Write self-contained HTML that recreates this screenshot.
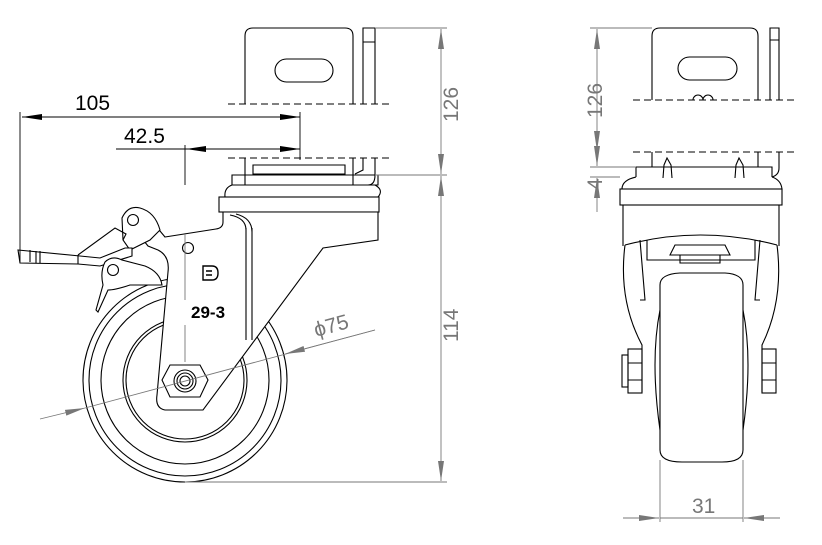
<!DOCTYPE html>
<html><head><meta charset="utf-8"><style>
html,body{margin:0;padding:0;background:#fff;}
svg{display:block;}
text{font-family:"Liberation Sans",sans-serif;}
</style></head><body>
<svg width="822" height="545" viewBox="0 0 822 545" xmlns="http://www.w3.org/2000/svg">
<defs>
<marker id="a" viewBox="0 0 20 6" refX="20" refY="3" markerWidth="20" markerHeight="6" orient="auto" markerUnits="userSpaceOnUse"><path d="M0,0 L20,3 L0,6 z" fill="#000"/></marker>
<marker id="g" viewBox="0 0 20 6" refX="20" refY="3" markerWidth="20" markerHeight="6" orient="auto" markerUnits="userSpaceOnUse"><path d="M0,0 L20,3 L0,6 z" fill="#777"/></marker>
</defs>
<g fill="none" stroke="#000" stroke-width="1.1">
<!-- LEFT VIEW -->
<path d="M245,104 V36 Q245,28 253,28 H345 Q353,28 353,36 V104"/>
<rect x="275" y="59" width="58" height="23" rx="11.5"/>
<path d="M363,104 V28 H375 V104 M363,42 H375"/>
<path d="M228,104 H393 M228,158 H393" stroke-dasharray="7,4"/>
<path d="M245,158 V185 M353,158 V185 M253,174 V165 H345 V174 Z M232,185 V175 H378 V185 Z M363,158 V170 L355,174 M375,158 V175 Q375,185 368,185"/>
<path d="M232,185 Q224,188 225,197 M375,185 Q384,190 378,197"/>
<rect x="219" y="197" width="160" height="15"/>
<!-- wheel -->
<circle cx="185" cy="380" r="102"/>
<circle cx="185" cy="380" r="96"/>
<circle cx="185" cy="380" r="84"/>
<circle cx="185" cy="380" r="62"/>
<circle cx="185" cy="380" r="59"/>
<!-- fork -->
<path fill="#fff" d="M165,237 L216,229 Q223,228 223,222 V212 H378 V240 L323,248 L203,410 H165 Q155,408 157,395 L168,272 Q170,256 158,250 L148,246 L140,236 Q150,228 160,231 Z"/>
<path d="M246,228 V340 M252,228 V340 M230,215 Q246,218 246,230 M236,214 Q252,218 252,232"/>
<path fill="#fff" d="M170,365 L200,365 L208,380 L200,397 L170,397 L162,380 Z"/>
<circle cx="185" cy="381" r="11"/>
<circle cx="185" cy="381" r="8"/>
<circle cx="185" cy="381" r="5"/>
<!-- lever -->
<path fill="#fff" d="M122,218 Q128,205 140,208 Q155,212 160,230 L150,240 L130,250 L123,240 Z"/>
<circle cx="133" cy="220" r="5.5"/>
<circle cx="188" cy="248" r="5.5"/>
<path fill="#fff" d="M18,250 L80,256 L100,258 L125,248 L132,248 L132,256 L100,266 L78,264 L20,263 Z"/>
<path d="M78,255 V264 M30,250 V262 M36,251 V263 M40,251 V263"/>
<path d="M78,255 L115,228 L126,234 L123,240"/>
<path fill="#fff" d="M105,262 Q112,255 122,260 L145,266 Q160,272 162,285 L130,285 Q115,290 108,290 L98,312 L96,310 L103,285 Q100,272 105,262 Z"/>
<circle cx="113" cy="270" r="5.5"/>
<path d="M203,266 H212 Q218,266 218,273 Q218,280 212,280 H203 Z M206,271 H212 M206,275 H212" stroke-width="1.4"/>
<!-- RIGHT VIEW -->
<path d="M652,100 V36 Q652,28 660,28 H750 Q758,28 758,36 V100"/>
<rect x="678" y="57" width="59" height="23" rx="11.5"/>
<path d="M770,100 V28 H779 V100 M770,40 H779"/>
<path d="M633,100 H798 M633,152 H798" stroke-dasharray="7,4"/>
<path d="M693,100 a5,5 0 0 1 10,0 a5,5 0 0 1 10,0"/>
<path d="M652,152 V167 M758,152 V167 M779,152 V168 Q779,175 772,177 M636,177 V167 H772 V177"/>
<path d="M663,178 L664,165 L667,158 L671,165 L672,178 M735,178 L736,165 L739,158 L743,165 L744,178"/>
<path d="M636,177 Q622,180 622,189 H782 Q781,180 772,177"/>
<rect x="620" y="189" width="162" height="16"/>
<path d="M623,205 V246 M779,205 V246"/>
<path d="M625,245 Q700,225 777,245 M640,240 L645,300 L640,300 M760,240 L755,300 L760,300 M647,240 V260 H755 V240 M675,245 H725 L730,255 H670 Z M680,255 V263 H720 V255"/>
<path d="M625,245 Q618,300 642,345 V392 M777,245 Q784,300 762,345 V392"/>
<path d="M660,285 Q660,274 680,273 H725 Q743,274 743,285 V450 Q743,462 722,462 H682 Q660,462 660,450 Z"/>
<path d="M660,310 Q650,360 660,430 M743,310 Q753,360 743,430"/>
<rect x="628" y="349" width="14" height="44"/>
<rect x="622" y="355" width="6" height="32"/>
<rect x="762" y="349" width="14" height="44"/>
<path d="M628,363 H642 M628,380 H642 M762,363 H776 M762,380 H776"/>
</g>
<!-- dimensions -->
<g fill="none" stroke="#000" stroke-width="0.9">
<path d="M20,112 V262 M300,112 V160 M185,145 V185"/>
<path d="M300,117 H22" marker-end="url(#a)"/>
<path d="M22,117 H300" marker-end="url(#a)"/>
<path d="M116,149 H300" marker-end="url(#a)"/>
<path d="M300,149 H186" marker-end="url(#a)"/>
</g>
<g fill="none" stroke="#777" stroke-width="0.9">
<path d="M185,482 H447 M375,28 H447 M375,175 H447 M185,234 V300 M185,325 V362" />
<path d="M441,100 V29" marker-end="url(#g)"/>
<path d="M441,100 V174" marker-end="url(#g)"/>
<path d="M441,330 V176" marker-end="url(#g)"/>
<path d="M441,330 V481" marker-end="url(#g)"/>
<path d="M375,330 L85,408" />
<path d="M375,330 L285,354" marker-end="url(#g)"/>
<path d="M40,419 L85,408" marker-end="url(#g)"/>
<path d="M590,28 H652 M590,167 H636 M590,177 H620 M660,460 V522 M743,460 V522"/>
<path d="M597,90 V29" marker-end="url(#g)"/>
<path d="M597,90 V151" marker-end="url(#g)"/>
<path d="M597,145 V166" marker-end="url(#g)"/>
<path d="M597,212 V178" marker-end="url(#g)"/>
<path d="M623,518 H659" marker-end="url(#g)"/>
<path d="M780,518 H744" marker-end="url(#g)"/>
<path d="M660,518 H743"/>
</g>
<g font-size="21" fill="#000">
<text x="75" y="110">105</text>
<text x="124" y="143">42.5</text>
</g>
<g font-size="21" fill="#777">
<text transform="translate(458,122) rotate(-90)">126</text>
<text transform="translate(458,342) rotate(-90)">114</text>
<text transform="translate(602,118) rotate(-90)">126</text>
<text transform="translate(602,190) rotate(-90)">4</text>
<text x="692" y="513">31</text>
<text transform="translate(316,337) rotate(-15)">ϕ75</text>
</g>
<text x="191" y="318" font-size="17" font-weight="bold" fill="#000">29-3</text>
</svg>
</body></html>
